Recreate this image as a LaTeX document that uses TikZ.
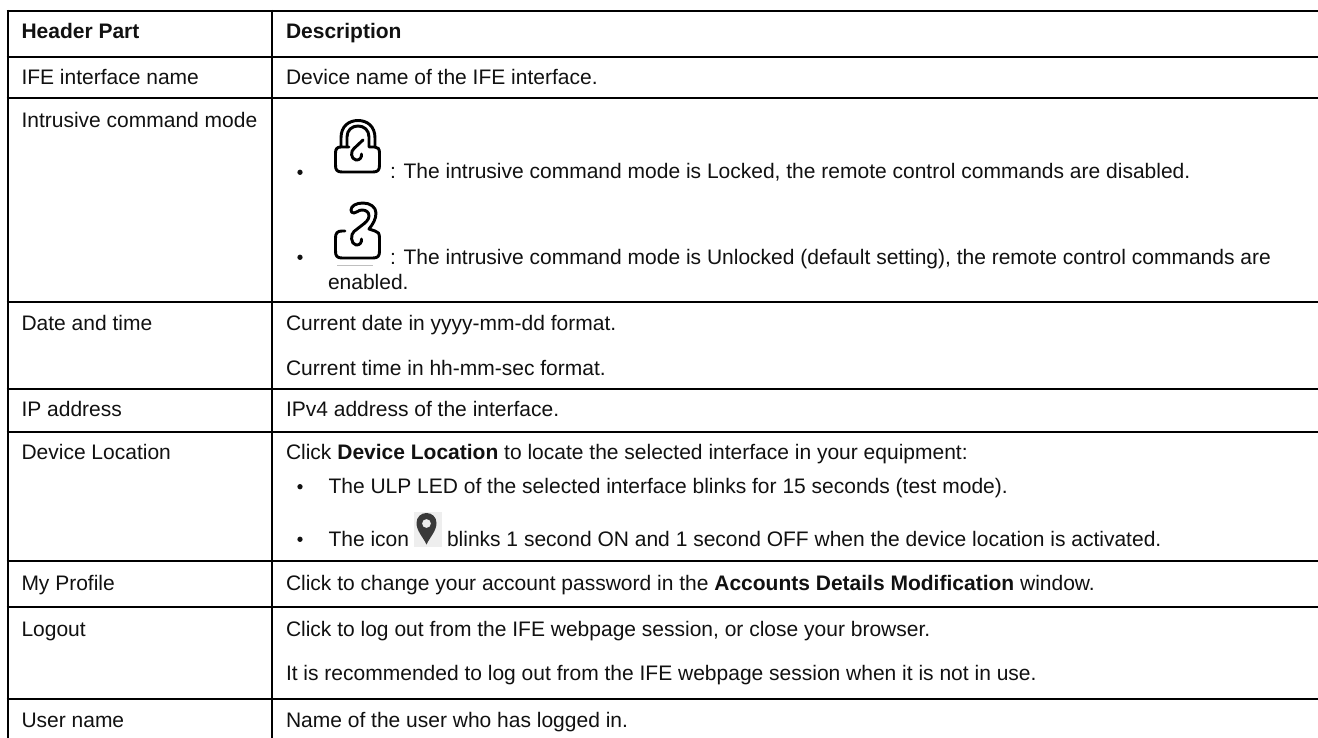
\documentclass[tikz,border=0pt]{standalone}
\usepackage{fontspec}
\setmainfont{Liberation Sans}
\definecolor{ink}{HTML}{111111}
\definecolor{pinbg}{HTML}{EEEEEE}
\definecolor{pinfg}{HTML}{3A3A3A}
\newcommand{\bodyfont}{\fontsize{15.75pt}{18pt}\selectfont}
\tikzset{
 x=0.75pt,y=-0.75pt,
 rulerow/.style={line width=1.5pt,black},
 txt/.style={anchor=base west,inner sep=0pt,outer sep=0pt,font=\bodyfont,text=ink},
 bold/.style={txt,font=\bodyfont\bfseries},
 dot/.style={circle,fill=ink,inner sep=0pt,minimum size=4pt},
 lockline/.style={line width=2.2pt,black,line cap=round,line join=round}
}
\begin{document}
\begin{tikzpicture}
\useasboundingbox (0,0) rectangle (1318,738);
\fill[white] (0,0) rectangle (1318,738);
% table rules
\foreach \y in {11,56.7,98.3,301.7,389.3,431.7,560.7,606.7,699}{\draw[rulerow] (6.5,\y) -- (1318,\y);}
\draw[rulerow] (7.5,10) -- (7.5,738);
\draw[rulerow] (272,10) -- (272,738);
% header
\node[bold] (h1) at (21.5,39) {Header Part};
\node[bold] (h2) at (286,39) {Description};
% IFE interface name
\node[txt] (a1) at (21.5,85) {IFE interface name};
\node[txt] (b1) at (286,85) {Device name of the IFE interface.};
% Intrusive command mode
\node[txt] (a2) at (21.5,127.5) {Intrusive command mode};
\node[dot] (d1) at (300,172.3) {};
\node[txt] (b2) at (390,179) {: The intrusive command mode is Locked, the remote control commands are disabled.};
\node[dot] (d2) at (300,257.3) {};
\node[txt] (b3) at (390,264.5) {: The intrusive command mode is Unlocked (default setting), the remote control commands are};
\node[txt] (b4) at (328,289) {enabled.};
% locked icon
\draw[lockline] (349,147) -- (341,147) .. controls (337,147) and (335.5,149) .. (335.5,153) -- (335.5,165)
  .. controls (335.5,170) and (337,172) .. (342,172) -- (373,172)
  .. controls (378,172) and (379.5,170) .. (379.5,165) -- (379.5,153)
  .. controls (379.5,149) and (378,147) .. (375,147) -- (375,138)
  .. controls (375,126) and (367,120.5) .. (358,120.5) .. controls (349,120.5) and (341,126) .. (341,138) -- (341,147);
\draw[lockline] (347,147) -- (347,137) .. controls (347,130) and (352,126) .. (358,126)
  .. controls (364,126) and (369,130) .. (369,137) -- (369,147) -- (375,147);
\draw[lockline] (363,140) -- (354,148.5) .. controls (350.5,151) and (350.5,159) .. (356,160)
  .. controls (360,160.5) and (362,157) .. (361.5,154);
% unlocked icon
\draw[lockline] (345,231) -- (342,231) .. controls (337,231) and (335.5,233.5) .. (335.5,238) -- (335.5,251)
  .. controls (335.5,256) and (337,258) .. (342,258) -- (373,258)
  .. controls (378,258) and (379.5,256) .. (379.5,251) -- (379.5,238)
  .. controls (379.5,233.5) and (378,231.5) .. (375,231) -- (369,229)
  .. controls (373,224) and (376,219) .. (376,213) .. controls (376,207) and (370,203) .. (363,203)
  .. controls (356,203) and (351,206) .. (351,210) .. controls (351,212) and (352,213) .. (354,213)
  .. controls (357,213) and (358,210) .. (362,210) .. controls (366,210) and (369,212) .. (369,216)
  .. controls (369,220) and (365,223) .. (361,226) -- (354,231.5)
  .. controls (350.5,234) and (350.5,244) .. (356,245) .. controls (360,245.5) and (362,242) .. (361.5,239);
\draw[line width=0.75pt,black!25] (337,265.7) -- (373,265.7);
% Date and time
\node[txt] (a3) at (21.5,330.7) {Date and time};
\node[txt] (b5) at (286,330.7) {Current date in yyyy-mm-dd format.};
\node[txt] (b6) at (286,375.3) {Current time in hh-mm-sec format.};
% IP address
\node[txt] (a4) at (21.5,416.7) {IP address};
\node[txt] (b7) at (286,416.7) {IPv4 address of the interface.};
% Device Location
\node[txt] (a5) at (21.5,459.3) {Device Location};
\node[txt] (b8) at (286,459.3) {Click \textbf{Device Location} to locate the selected interface in your equipment:};
\node[dot] (d3) at (300,486.7) {};
\node[txt] (b9) at (328.5,493) {The ULP LED of the selected interface blinks for 15 seconds (test mode).};
\node[dot] (d4) at (300,539.3) {};
\node[txt] (b10) at (328.5,546) {The icon};
\fill[pinbg] (414,512) rectangle (442,547);
\fill[pinfg,even odd rule] (426.5,544.5) .. controls (423,537) and (416.5,531) .. (416.5,523)
  .. controls (416.5,517) and (421,513) .. (426.5,513)
  .. controls (432,513) and (436.5,517) .. (436.5,523)
  .. controls (436.5,531) and (430,537) .. (426.5,544.5) -- cycle
  (426.5,523.5) circle[radius=4.5];
\node[txt] (b11) at (447,546) {blinks 1 second ON and 1 second OFF when the device location is activated.};
% My Profile
\node[txt] (a6) at (21.5,590) {My Profile};
\node[txt] (b12) at (286,590) {Click to change your account password in the \textbf{Accounts Details Modification} window.};
% Logout
\node[txt] (a7) at (21.5,636) {Logout};
\node[txt] (b13) at (286,636) {Click to log out from the IFE webpage session, or close your browser.};
\node[txt] (b14) at (286,680.7) {It is recommended to log out from the IFE webpage session when it is not in use.};
% User name
\node[txt] (a8) at (21.5,727) {User name};
\node[txt] (b15) at (286,727) {Name of the user who has logged in.};
\end{tikzpicture}
\end{document}
